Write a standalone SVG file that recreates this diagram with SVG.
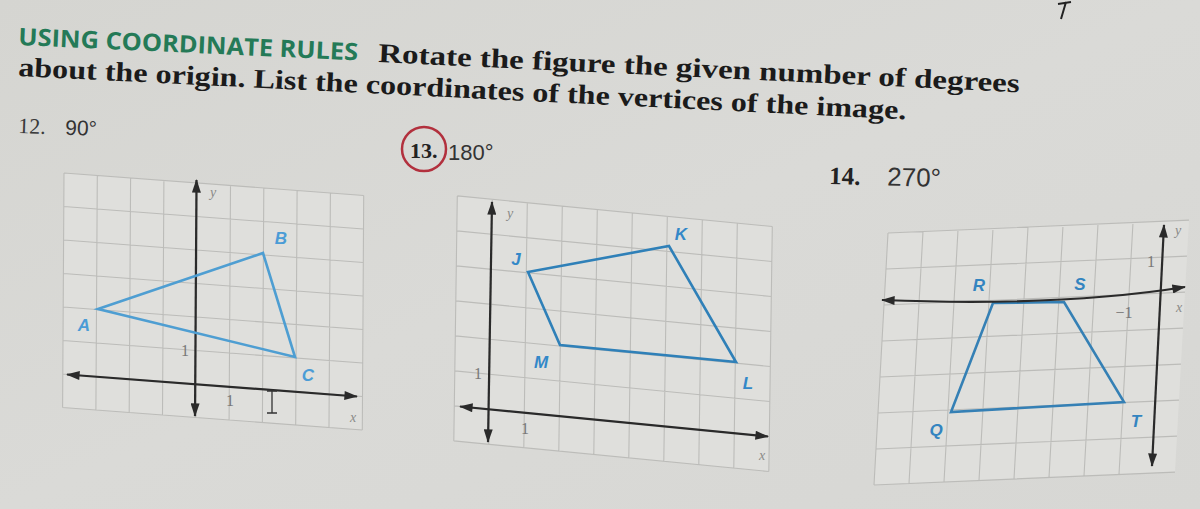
<svg xmlns="http://www.w3.org/2000/svg" width="1200" height="509" viewBox="0 0 1200 509">
<defs>
<linearGradient id="bg" x1="0" y1="0" x2="1" y2="1">
<stop offset="0" stop-color="#d5d5d1"/>
<stop offset="0.5" stop-color="#dadad7"/>
<stop offset="1" stop-color="#d7d7d4"/>
</linearGradient>
<marker id="ah" viewBox="0 0 15 10" refX="14" refY="5" markerWidth="15" markerHeight="9" markerUnits="userSpaceOnUse" orient="auto-start-reverse">
<path d="M0,0 L15,5 L0,10 Z" fill="#2a2a2a"/>
</marker>
<style>
.panel{fill:#dfdfdc;stroke:none}
.grid{stroke:#bcbcb9;stroke-width:1.1;fill:none;vector-effect:non-scaling-stroke}
.axis{stroke:#2a2a2a;stroke-width:2.2;fill:none;marker-start:url(#ah);marker-end:url(#ah)}
.fig{fill:none;stroke-width:2.6;stroke-linejoin:miter}
.lbl{font-family:"Liberation Sans",Arial,sans-serif;font-weight:bold;font-style:italic;font-size:17px;text-anchor:middle;dominant-baseline:central}
.ax{font-family:"Liberation Serif","Times New Roman",serif;font-style:italic;font-size:14px;fill:#8a8a88;text-anchor:middle;dominant-baseline:central}
.tick{font-family:"Liberation Serif","Times New Roman",serif;font-size:16px;fill:#777;text-anchor:middle;dominant-baseline:central}
.serifb{font-family:"Liberation Serif","Times New Roman",serif;font-weight:bold;fill:#1b1b1b}
.sans{font-family:"Liberation Sans",Arial,sans-serif;fill:#333}
</style>
</defs>
<rect width="1200" height="509" fill="url(#bg)"/>

<!-- heading text -->
<g id="heading">
<text transform="translate(18,45) rotate(2.6)" font-family="'Open Sans','Liberation Sans',sans-serif" font-weight="bold" font-size="24" fill="#247a57" textLength="340" lengthAdjust="spacingAndGlyphs">USING COORDINATE RULES</text>
<text class="serifb" transform="translate(378,62) rotate(2.7)" font-size="27" textLength="642" lengthAdjust="spacingAndGlyphs">Rotate the figure the given number of degrees</text>
<text class="serifb" transform="translate(18,76) rotate(2.8)" font-size="27" textLength="889" lengthAdjust="spacingAndGlyphs">about the origin. List the coordinates of the vertices of the image.</text>
</g>

<!-- stray mark -->
<path d="M1058,4 L1071,2 M1066,2 L1061,19" stroke="#222" stroke-width="2" fill="none"/>

<!-- exercise 12 -->
<g id="ex12">
<g transform="translate(18,133) rotate(2)">
<text font-family="'Liberation Serif',serif" font-size="22" fill="#3a3a3a">12.</text>
<text x="47" class="sans" font-size="21" fill="#555">90°</text>
</g>
<g transform="matrix(33.3,2.5,-0.2,33.5,196,384)">
<rect class="panel" x="-4" y="-6" width="9" height="7"/>
<path class="grid" d="M-4,-6V1M-3,-6V1M-2,-6V1M-1,-6V1M0,-6V1M1,-6V1M2,-6V1M3,-6V1M4,-6V1M5,-6V1M-4,-6H5M-4,-5H5M-4,-4H5M-4,-3H5M-4,-2H5M-4,-1H5M-4,0H5M-4,1H5"/>
</g>
<path class="axis" d="M67,374.5 L357,396.5"/>
<path class="axis" d="M196.5,180 L195,416"/>
<polygon class="fig" stroke="#4e9ed2" points="98,309 263,253 295,357"/>
<text class="lbl" fill="#4b9cd6" x="84" y="325">A</text>
<text class="lbl" fill="#4b9cd6" x="281" y="238">B</text>
<text class="lbl" fill="#4b9cd6" x="308" y="375">C</text>
<text class="ax" x="213" y="192">y</text>
<text class="ax" x="353" y="417" font-size="11">x</text>
<text class="tick" x="185" y="350">1</text>
<text class="tick" x="230" y="400">1</text>
<path d="M267,391 L277,391 M272,391 L272,413 M267,413 L277,413" stroke="#333" stroke-width="1.3" fill="none"/>
</g>

<!-- exercise 13 -->
<g id="ex13">
<ellipse cx="424" cy="149" rx="22" ry="22" fill="none" stroke="#b2303d" stroke-width="2.5"/>
<text x="410" y="158" font-family="'Liberation Serif',serif" font-weight="bold" font-size="22" fill="#222">13.</text>
<text x="448" y="160" class="sans" font-size="22">180°</text>
<g transform="matrix(35,3.4,-0.5,35,489.3,409.3)">
<rect class="panel" x="-1" y="-6" width="9" height="7"/>
<path class="grid" d="M-1,-6V1M0,-6V1M1,-6V1M2,-6V1M3,-6V1M4,-6V1M5,-6V1M6,-6V1M7,-6V1M8,-6V1M-1,-6H8M-1,-5H8M-1,-4H8M-1,-3H8M-1,-2H8M-1,-1H8M-1,0H8M-1,1H8"/>
</g>
<path class="axis" d="M460,406.5 L768,436.5"/>
<path class="axis" d="M492,202 L488,442"/>
<polygon class="fig" stroke="#2f80b8" points="528,272 669,246 736,362 560,345"/>
<text class="lbl" fill="#3388c8" x="516" y="259">J</text>
<text class="lbl" fill="#3388c8" x="681" y="234">K</text>
<text class="lbl" fill="#3388c8" x="748" y="383">L</text>
<text class="lbl" fill="#3388c8" x="541" y="362">M</text>
<text class="ax" x="510" y="213">y</text>
<text class="ax" x="762" y="455">x</text>
<text class="tick" x="478" y="373">1</text>
<text class="tick" x="525" y="428">1</text>
</g>

<!-- exercise 14 -->
<g id="ex14">
<g transform="translate(829,184) rotate(1.5)">
<text font-family="'Liberation Serif',serif" font-weight="bold" font-size="25" fill="#222">14.</text>
<text x="58" class="sans" font-size="26">270°</text>
</g>
<g transform="matrix(35,-1.5,-2,36,1164,293)">
<rect class="panel" x="-8" y="-2" width="8.6" height="7"/>
<path class="grid" d="M-8,-2V5M-7,-2V5M-6,-2V5M-5,-2V5M-4,-2V5M-3,-2V5M-2,-2V5M-1,-2V5M-8,-2H0.6M-8,-1H0.6M-8,0H0.6M-8,1H0.6M-8,2H0.6M-8,3H0.6M-8,4H0.6M-8,5H0.6"/>
</g>
<polygon class="fig" stroke="#3580b5" points="993,303 1064,302 1124,402 951,412"/>
<path class="axis" d="M882,300 Q1060,307 1185,287"/>
<path class="axis" d="M1164,225 L1152,466"/>
<text class="lbl" fill="#3384c0" x="979" y="285">R</text>
<text class="lbl" fill="#3384c0" x="1080" y="284">S</text>
<text class="lbl" fill="#3384c0" x="1136" y="421">T</text>
<text class="lbl" fill="#3384c0" x="936" y="430">Q</text>
<text class="ax" x="1178" y="230">y</text>
<text class="ax" x="1179" y="307" font-size="11">x</text>
<text class="tick" x="1151" y="261">1</text>
<text class="tick" x="1124" y="312">−1</text>
</g>
</svg>
